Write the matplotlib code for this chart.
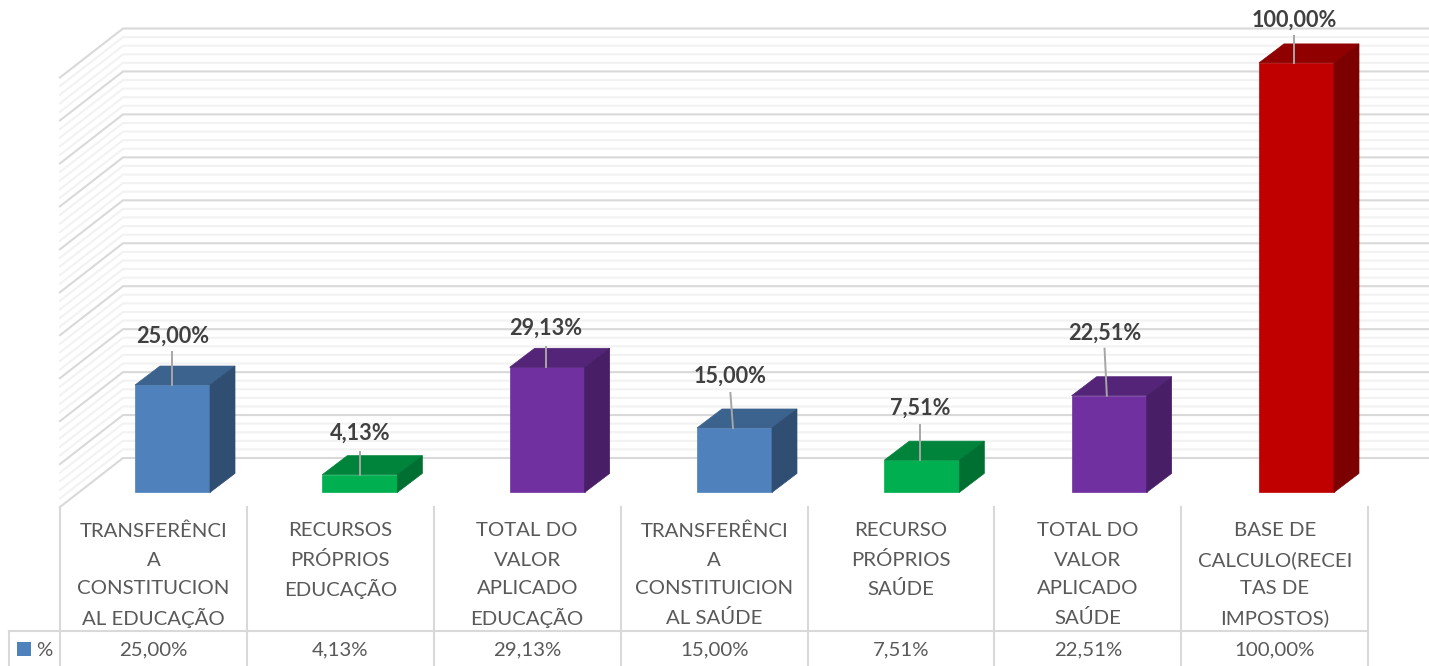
import matplotlib
matplotlib.use("Agg")
import matplotlib.pyplot as plt
from matplotlib.patches import Polygon, Rectangle

categories = [
    "TRANSFERÊNCI\nA\nCONSTITUCION\nAL EDUCAÇÃO",
    "RECURSOS\nPRÓPRIOS\nEDUCAÇÃO",
    "TOTAL DO\nVALOR\nAPLICADO\nEDUCAÇÃO",
    "TRANSFERÊNCI\nA\nCONSTITUICION\nAL SAÚDE",
    "RECURSO\nPRÓPRIOS\nSAÚDE",
    "TOTAL DO\nVALOR\nAPLICADO\nSAÚDE",
    "BASE DE\nCALCULO(RECEI\nTAS DE\nIMPOSTOS)",
]
values = [25.00, 4.13, 29.13, 15.00, 7.51, 22.51, 100.00]
value_labels = ["25,00%", "4,13%", "29,13%", "15,00%", "7,51%", "22,51%", "100,00%"]
series_name = "%"

# face colours of each bar: front, top, side
front = ["#4F81BD", "#00B050", "#7030A0", "#4F81BD", "#00B050", "#7030A0", "#C00000"]
top = ["#3C628E", "#00843C", "#542478", "#3C628E", "#00843C", "#542478", "#900000"]
side = ["#2F4E72", "#007032", "#481F67", "#2F4E72", "#007032", "#481F67", "#7C0000"]

# leader line / label placement, in pixels from the bar's top centre
leader_start = [0, 0, -1, -1.5, -2, -2.3, -2.5]
leader_dx = [0, 0, 0, -2.6, 0, -2.3, 0]
leader_len = [33, 23, 20, 35, 35, 47, 27]
label_gap = [16, 18, 19, 17, 17, 16, 16]

W, H = 1429, 666
x0, y0 = 60, 492.4        # left of the category axis, bar baseline
col = 186.9               # px per category
bar_pitch = 187.33        # bars sit slightly wider apart than the table columns
bar_first = 172.5
ppv = 4.295               # px per percent
dx3, dy3 = 25, 19         # bar depth
wall_dx, wall_dy = 63, 49 # wall depth
wall_base = 507           # front corner of the floor

fig = plt.figure(figsize=(W / 100, H / 100), dpi=100)
ax = fig.add_axes([0, 0, 1, 1])
# one x unit = one category, one y unit = one percent
ax.set_xlim(-x0 / col, (W - x0) / col)
ax.set_ylim((y0 - H) / ppv, y0 / ppv)
ax.axis("off")
plt.rcParams["font.family"] = ["Lato", "DejaVu Sans"]

ddx, ddy = dx3 / col, dy3 / ppv
wx, wy = wall_dx / col, wall_dy / ppv
base = (y0 - wall_base) / ppv
right = (W - x0) / col

# gridlines on both walls, every 2 % with a heavier line each 10 %
for t in range(0, 51):
    v = t * 2
    major = t % 5 == 0
    ax.plot([0, wx, right], [base + v, base + v + wy, base + v + wy],
            color="#D9D9D9" if major else "#F2F2F2", lw=1.5, zorder=1,
            solid_joinstyle="miter")

bar_w = 75 / col
for i, v in enumerate(values):
    cx = (bar_first + i * bar_pitch - x0) / col
    l, r = cx - bar_w / 2, cx + bar_w / 2
    ax.add_patch(Rectangle((l, 0), r - l, v, fc=front[i], ec=front[i], lw=0.5, zorder=3))
    ax.add_patch(Polygon([(l, v), (r, v), (r + ddx, v + ddy), (l + ddx, v + ddy)],
                         fc=top[i], ec=top[i], lw=0.5, zorder=3))
    ax.add_patch(Polygon([(r, 0), (r + ddx, ddy), (r + ddx, v + ddy), (r, v)],
                         fc=side[i], ec=side[i], lw=0.5, zorder=3))
    sx = cx + leader_start[i] / col
    lx = sx + leader_dx[i] / col
    ltop = v + leader_len[i] / ppv
    ax.plot([sx, lx], [v, ltop], color="#A6A6A6", lw=1.4, zorder=4)
    ax.text(lx, ltop + label_gap[i] / ppv, value_labels[i], ha="center", va="center",
            fontsize=15.6, fontweight="bold", color="#404040", zorder=5)

# data table under the chart
tbl_top = (y0 - 631) / ppv
tbl_bot = (y0 - H) / ppv
tbl_left = (9 - x0) / col
n = len(categories)
line_c = "#D9D9D9"
for i in range(n + 1):
    ax.plot([i, i], [base, tbl_bot], color=line_c, lw=1.5, zorder=2)
ax.plot([tbl_left, n], [tbl_top, tbl_top], color=line_c, lw=1.5, zorder=2)
ax.plot([tbl_left, tbl_left], [tbl_top, tbl_bot], color=line_c, lw=1.5, zorder=2)
for i, c in enumerate(categories):
    for j, part in enumerate(c.split("\n")):
        ax.text(i + 0.5, (y0 - (531 + 29 * j)) / ppv, part, ha="center", va="center",
                fontsize=14.7, color="#595959")
    ax.text(i + 0.5, (y0 - 650) / ppv, value_labels[i], ha="center", va="center",
            fontsize=14.7, color="#595959")

# legend key in the table
ax.add_patch(Rectangle(((17 - x0) / col, (y0 - 656) / ppv), 14 / col, 14 / ppv,
                       fc=front[0], ec="none", zorder=3))
ax.text((36 - x0) / col, (y0 - 650) / ppv, series_name, ha="left", va="center",
        fontsize=14.7, color="#595959")

fig.savefig("out.png", dpi=100, facecolor="white")
